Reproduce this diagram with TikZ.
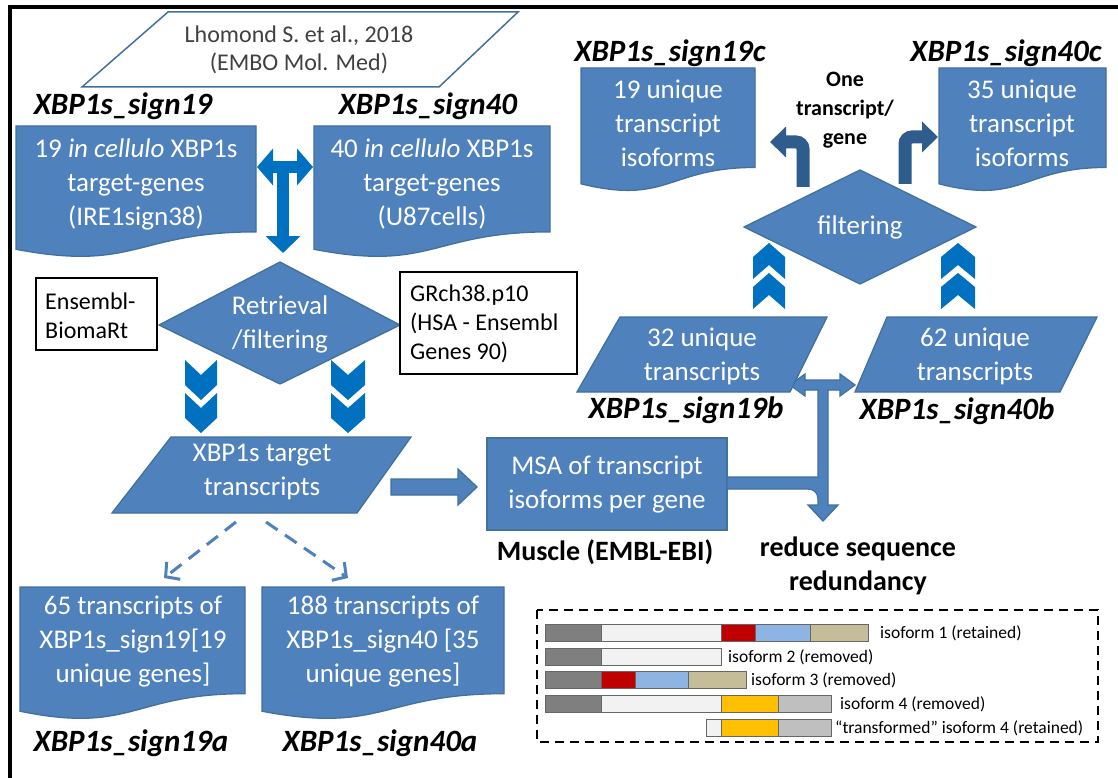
\documentclass[tikz,border=0pt]{standalone}
\usepackage{fontspec}
\setmainfont{Carlito}
\usetikzlibrary{arrows.meta}
\definecolor{boxblue}{HTML}{4F81BD}
\definecolor{boxedge}{HTML}{41719C}
\definecolor{arrblue}{HTML}{0070C0}
\definecolor{bentblue}{HTML}{2E5C8C}
\definecolor{txtgray}{HTML}{404040}
\definecolor{isored}{HTML}{C00000}
\definecolor{isoblue}{HTML}{8DB4E2}
\definecolor{isotan}{HTML}{C4BD97}
\definecolor{isoyel}{HTML}{FFC000}
\definecolor{isogray}{HTML}{BFBFBF}
\definecolor{isodark}{HTML}{7F7F7F}
\definecolor{isowhite}{HTML}{F2F2F2}
\newcommand{\docshape}[4]{%
  \filldraw[shapefill] (#1,#2) -- (#3,#2) -- (#3,{#2+0.802*#4})
   .. controls ({(#1+#3)/2},{#2+0.802*#4}) and ({(#1+#3)/2},{#2+1.107*#4}) ..
   (#1,{#2+0.934*#4}) -- cycle;}
\newcommand{\chevdown}[3]{%
  \fill[arrblue] ({#1-#3},#2) -- (#1,{#2+15}) -- ({#1+#3},#2) -- ({#1+#3},{#2+25})
   -- (#1,{#2+40}) -- ({#1-#3},{#2+25}) -- cycle;}
\newcommand{\chevup}[3]{%
  \fill[arrblue] (#1,#2) -- ({#1+#3},{#2+14}) -- ({#1+#3},{#2+36}) -- (#1,{#2+22})
   -- ({#1-#3},{#2+36}) -- ({#1-#3},{#2+14}) -- cycle;}
\newcommand{\seg}[4]{%
  \filldraw[draw=black!60, line width=0.9pt, fill=#4] (#1,{#3-8.5}) rectangle (#2,{#3+8.5});}
\tikzset{
  shapefill/.style={fill=boxblue, draw=boxedge, line width=1.3pt},
  boxtext/.style={text=white, align=center, inner sep=0pt, font=\fontsize{27}{34}\selectfont},
  signlabel/.style={inner sep=0pt, font=\fontsize{31}{33}\selectfont\bfseries\itshape},
  reftext/.style={text=txtgray, align=center, inner sep=0pt, font=\fontsize{24}{28}\selectfont},
  plaintext/.style={align=left, inner sep=0pt, font=\fontsize{24}{29}\selectfont},
  boldtext/.style={align=center, inner sep=0pt, font=\fontsize{28}{34}\selectfont\bfseries},
  smallbold/.style={align=center, inner sep=0pt, font=\fontsize{22}{29}\selectfont\bfseries},
  isolabel/.style={anchor=west, inner sep=0pt, font=\fontsize{17.5}{19}\selectfont},
  tarrow/.style={draw=arrblue, line width=12pt,
    {Triangle[width=36pt,length=16pt]}-{Triangle[width=36pt,length=16pt]}},
  tdown/.style={draw=arrblue, line width=12pt, -{Triangle[width=34pt,length=17pt]}},
  bentarrow/.style={draw=bentblue, line width=13pt, rounded corners=7pt,
    -{Triangle[width=30pt,length=16pt]}},
  dasharrow/.style={draw=boxblue, line width=3pt, dash pattern=on 14pt off 9pt,
    -{Straight Barb[length=10pt,width=22pt]}},
}
\begin{document}
\begin{tikzpicture}[x=1pt,y=-1pt]
\useasboundingbox (0,0) rectangle (1118,778);
\fill[white] (0,0) rectangle (1118,778);
% frame
\draw[line width=4pt] (8,7) -- (1118,7);
\draw[line width=4pt] (10,5) -- (10,778);

% reference parallelogram
\filldraw[fill=white, draw=boxedge, line width=1.5pt] (168,12) -- (518,12) -- (439,87) -- (82,87) -- cycle;
\node[reftext] (ref) at (299,50) {Lhomond S. et al., 2018\\(EMBO Mol. Med)};

% left top boxes
\node[signlabel] (s19) at (123,106) {XBP1s\_sign19};
\node[signlabel] (s40) at (428,106) {XBP1s\_sign40};
\docshape{16}{126}{256}{132}
\node[boxtext] (b19) at (136,184) {19 {\itshape in cellulo} XBP1s\\target-genes\\(IRE1sign38)};
\docshape{314}{126}{550}{132}
\node[boxtext] (b40) at (432,184) {40 {\itshape in cellulo} XBP1s\\target-genes\\(U87cells)};
\coordinate (tL) at (257,167);
\coordinate (tR) at (313,167);
\coordinate (tM) at (283,167);
\coordinate (tD) at (283,253);
\draw[tarrow] (tL) -- (tR);
\draw[tdown] (tM) -- (tD);

% retrieval diamond
\filldraw[shapefill] (159,325) -- (280,262) -- (400,325) -- (280,384) -- cycle;
\node[boxtext] (ret) at (280,324) {Retrieval\\/filtering};
\draw[line width=2pt] (36,278) rectangle (157,350);
\node[plaintext, anchor=west] (ens) at (45,316) {Ensembl-\\BiomaRt};
\draw[line width=2pt] (400,272) rectangle (577,374);
\node[plaintext, anchor=west] (grc) at (410,324) {GRch38.p10\\(HSA - Ensembl\\Genes 90)};

% down chevrons
\chevdown{201}{360}{16}
\chevdown{201}{393}{16}
\chevdown{348}{360}{17}
\chevdown{348}{393}{17}

% target transcripts
\filldraw[shapefill] (171,437) -- (411,437) -- (357,513) -- (112,513) -- cycle;
\node[boxtext] (tgt) at (262,472) {XBP1s target\\transcripts};

% block arrow to MSA
\filldraw[shapefill] (391,479) -- (458,479) -- (458,469) -- (477,487) -- (458,505) -- (458,495) -- (391,495) -- cycle;
\filldraw[shapefill] (487,438) rectangle (727,530);
\node[boxtext] (msa) at (607,485) {MSA of transcript\\isoforms per gene};
\node[boldtext] (mus) at (605,552) {Muscle (EMBL-EBI)};
\node[boldtext] (red) at (858,566) {reduce sequence\\redundancy};

% split arrow
\filldraw[shapefill] (790,385) -- (805,374) -- (805,380) -- (840,380) -- (840,374) -- (855,385)
  -- (840,396) -- (840,390) -- (828,390) -- (828,505) -- (838,505) -- (823,521) -- (808,505)
  -- (818,505) -- (818,499) .. controls (818,493) and (814,489) .. (808,489) -- (727,489)
  -- (727,477) -- (818,477) -- (818,390) -- (805,390) -- (805,396) -- cycle;

% bottom-left
\draw[dasharrow] (236,522) -- (164,578);
\draw[dasharrow] (266,522) -- (348,578);
\docshape{20}{587}{245}{133}
\node[boxtext] (a19) at (133,642) {65 transcripts of\\XBP1s\_sign19[19\\unique genes]};
\docshape{262}{587}{504}{133}
\node[boxtext] (a40) at (383,642) {188 transcripts of\\XBP1s\_sign40 [35\\unique genes]};
\node[signlabel] (s19a) at (131,743) {XBP1s\_sign19a};
\node[signlabel] (s40a) at (380,743) {XBP1s\_sign40a};

% right top
\node[signlabel] (s19c) at (670,53) {XBP1s\_sign19c};
\node[signlabel] (s40c) at (1006,53) {XBP1s\_sign40c};
\docshape{581}{68}{755}{124}
\node[boxtext] (c19) at (668,123) {19 unique\\transcript\\isoforms};
\docshape{939}{68}{1106}{124}
\node[boxtext] (c40) at (1022,123) {35 unique\\transcript\\isoforms};
\node[smallbold] (one) at (845,110) {One\\transcript/\\gene};
\coordinate (bl0) at (803,187);
\coordinate (bl1) at (803,142);
\coordinate (bl2) at (770,142);
\coordinate (br0) at (905,184);
\coordinate (br1) at (905,137);
\coordinate (br2) at (938,137);
\draw[bentarrow] (bl0) -- (bl1) -- (bl2);
\draw[bentarrow] (br0) -- (br1) -- (br2);
\filldraw[shapefill] (744,227) -- (860,170) -- (976,227) -- (860,284) -- cycle;
\node[boxtext] (fil) at (860,227) {filtering};
\chevup{769}{243}{16}
\chevup{769}{273}{16}
\chevup{958}{243}{17}
\chevup{958}{273}{17}

% unique transcripts
\filldraw[shapefill] (620,317) -- (827,317) -- (790,392) -- (577,392) -- cycle;
\node[boxtext] (u32) at (702,356) {32 unique\\transcripts};
\filldraw[shapefill] (887,317) -- (1097,317) -- (1060,392) -- (855,392) -- cycle;
\node[boxtext] (u62) at (975,356) {62 unique\\transcripts};
\node[signlabel] (s19b) at (686,410) {XBP1s\_sign19b};
\node[signlabel] (s40b) at (957,411) {XBP1s\_sign40b};

% isoform legend
\draw[line width=1.8pt, dash pattern=on 9pt off 6pt] (537,610) rectangle (1098,742);
\seg{545}{601}{633}{isodark}\seg{601}{721}{633}{isowhite}\seg{721}{755}{633}{isored}
\seg{755}{810}{633}{isoblue}\seg{810}{868}{633}{isotan}
\node[isolabel] (i1) at (880,633) {isoform 1 (retained)};
\seg{545}{601}{657}{isodark}\seg{601}{721}{657}{isowhite}
\node[isolabel] (i2) at (728,657) {isoform 2 (removed)};
\seg{545}{601}{680}{isodark}\seg{601}{635}{680}{isored}\seg{635}{688}{680}{isoblue}\seg{688}{746}{680}{isotan}
\node[isolabel] (i3) at (751,680) {isoform 3 (removed)};
\seg{545}{601}{704}{isodark}\seg{601}{721}{704}{isowhite}\seg{721}{778}{704}{isoyel}\seg{778}{831}{704}{isogray}
\node[isolabel] (i4) at (840,704) {isoform 4 (removed)};
\seg{706}{721}{728}{isowhite}\seg{721}{778}{728}{isoyel}\seg{778}{831}{728}{isogray}
\node[isolabel] (i5) at (835,728) {“transformed” isoform 4 (retained)};
\end{tikzpicture}
\end{document}
